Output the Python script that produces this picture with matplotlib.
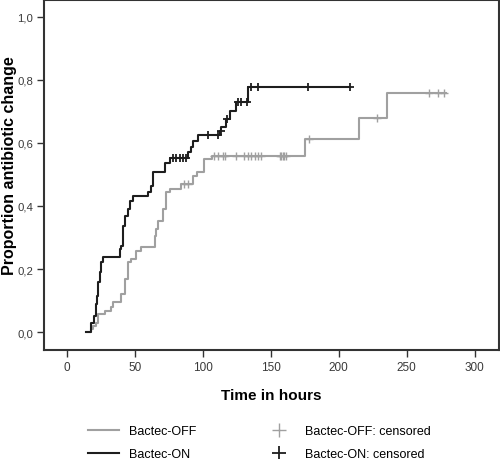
import numpy as np
import matplotlib
matplotlib.use('Agg')
import matplotlib.pyplot as plt
from matplotlib.lines import Line2D
from matplotlib.ticker import FuncFormatter

plt.rcParams['font.family'] = ['Liberation Sans', 'DejaVu Sans']

# Bactec-OFF step curve (time in hours, cumulative proportion)
off_t = [14.7, 17.5, 19.1, 21.6, 22.8, 27.7, 32.6, 33.8, 40.0, 42.4, 44.9, 47.3, 51.0, 54.7,
         64.5, 65.7, 67.0, 70.6, 73.1, 75.5, 84.1, 92.5, 96.0, 100.5, 107.0, 175.5, 214.7, 235.3]
off_p = [0, 0.01, 0.02, 0.03, 0.057, 0.068, 0.079, 0.094, 0.12, 0.168, 0.221, 0.232, 0.258, 0.27,
         0.306, 0.327, 0.353, 0.39, 0.443, 0.455, 0.47, 0.496, 0.507, 0.55, 0.56, 0.614, 0.679, 0.759]
off_end = 279
off_cens = [86, 89, 107.9, 111, 114.7, 115.9, 124, 130.6, 133, 135.5, 138, 140.4, 142.9,
            156.4, 157.6, 158.8, 160, 161.3, 178, 228, 266.2, 272.8, 277.7]

# Bactec-ON step curve
on_t = [13.7, 17.9, 19.6, 21.1, 22.1, 22.8, 24.0, 25.3, 26.5, 38.7, 40.0, 41.2, 42.4, 44.9, 46.1,
        48.5, 59.6, 62.0, 63.2, 71.8, 76.0, 89.0, 91.5, 92.6, 96.3, 112.3, 113.5, 117.2, 119.6,
        124.5, 133.1]
on_p = [0, 0.029, 0.052, 0.089, 0.115, 0.158, 0.19, 0.221, 0.237, 0.263, 0.274, 0.337, 0.369, 0.39,
        0.417, 0.433, 0.443, 0.465, 0.507, 0.535, 0.551, 0.57, 0.586, 0.607, 0.624, 0.639, 0.65,
        0.676, 0.703, 0.729, 0.777]
on_end = 208
on_cens = [78, 80.4, 82.9, 85.3, 87.8, 103.7, 111, 113, 117.5, 125.7, 128.2, 132.5,
           135.6, 140.4, 177.7, 208]

gray = '#a0a0a0'
dark = '#1e1e1e'


def level(t, p, c):
    t = np.array(t)
    p = np.array(p)
    idx = np.searchsorted(t, c, side='right') - 1
    return p[idx]


fig = plt.figure(figsize=(5, 4.6), dpi=100)
ax = fig.add_axes([0.088, 0.237, 0.91, 0.761])

ax.step(off_t + [off_end], off_p + [off_p[-1]], where='post', color=gray, lw=1.5)
ax.plot(off_cens, level(off_t, off_p, off_cens), ls='none', marker='+',
        ms=5.5, mew=1.0, color=gray)
ax.step(on_t + [on_end], on_p + [on_p[-1]], where='post', color=dark, lw=1.5)
ax.plot(on_cens, level(on_t, on_p, on_cens), ls='none', marker='+',
        ms=5.5, mew=1.3, color=dark)

ax.set_xlim(-17, 318)
ax.set_ylim(-0.057, 1.054)
ax.set_xticks([0, 50, 100, 150, 200, 250, 300])
ax.set_yticks([0, 0.2, 0.4, 0.6, 0.8, 1.0])
ax.yaxis.set_major_formatter(FuncFormatter(lambda v, pos: ('%.1f' % v).replace('.', ',')))
ax.tick_params(labelsize=8.5, labelcolor='#3a3a3a', color='#333333', length=5, width=1, pad=3)
ax.tick_params(axis='y', labelsize=8.2)
for s in ax.spines.values():
    s.set_color('#333333')
    s.set_linewidth(1.5)

ax.set_xlabel('Time in hours', fontsize=11, fontweight='bold', labelpad=11)
ax.set_ylabel('Proportion antibiotic change', fontsize=11.5, fontweight='bold', labelpad=2)
ax.yaxis.set_label_coords(-0.06, 0.53)

handles = [Line2D([], [], color=gray, lw=1.5),
           Line2D([], [], color=dark, lw=1.5),
           Line2D([], [], color=gray, ls='none', marker='+', ms=10, mew=1.0),
           Line2D([], [], color=dark, ls='none', marker='+', ms=10, mew=1.3)]
labels = ['Bactec-OFF', 'Bactec-ON', 'Bactec-OFF: censored', 'Bactec-ON: censored']
fig.legend(handles, labels, loc='lower center', bbox_to_anchor=(0.518, -0.027), ncol=2,
           frameon=False, fontsize=9, handlelength=2.5, columnspacing=5.36, labelspacing=0.9)

fig.savefig('out.png', dpi=100)
plt.close(fig)
